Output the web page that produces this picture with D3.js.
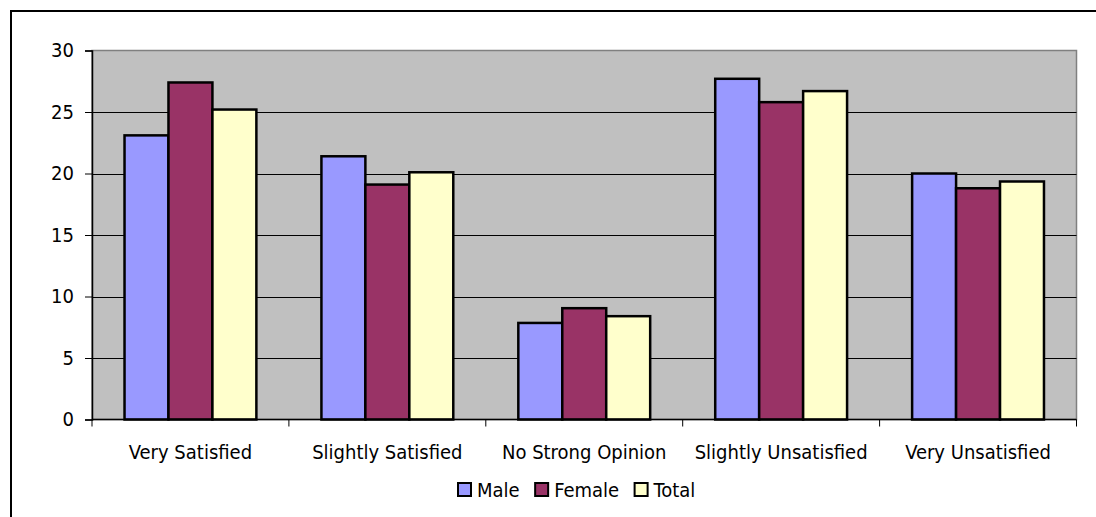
<!DOCTYPE html>
<html>
<head>
<meta charset="utf-8">
<script src="https://cdn.jsdelivr.net/npm/d3@7"></script>
<style>
  html, body { margin: 0; padding: 0; background: #fff; }
  svg { display: block; }
  text { font-family: "DejaVu Sans Condensed", "DejaVu Sans", sans-serif; font-stretch: condensed; fill: #000; }
</style>
</head>
<body>
<svg id="chart" width="1096" height="517"></svg>
<script>
// Survey responses by satisfaction level (percent)
const categories = ["Very Satisfied", "Slightly Satisfied", "No Strong Opinion", "Slightly Unsatisfied", "Very Unsatisfied"];
const seriesNames = ["Male", "Female", "Total"];
const maleValues   = [23.1, 21.4, 7.85, 27.7, 20.0];
const femaleValues = [27.4, 19.1, 9.05, 25.8, 18.8];
const totalValues  = [25.2, 20.1, 8.4, 26.7, 19.35];
const yTicks = [0, 5, 10, 15, 20, 25, 30];
const colors = ["#9999FF", "#993366", "#FFFFCC"];

const series = [maleValues, femaleValues, totalValues];
const FONT = "20px";
const FAMILY = "'DejaVu Sans Condensed', 'DejaVu Sans', sans-serif";

const svg = d3.select("#chart");
const W = 1096, H = 517;

// outer chart frame
svg.append("rect")
  .attr("x", 11).attr("y", 11)
  .attr("width", W).attr("height", H)
  .attr("fill", "#fff").attr("stroke", "#000").attr("stroke-width", 2);

const plot = { left: 92, top: 50.5, right: 1076.5, bottom: 419.5 };

const x = d3.scaleBand().domain(categories).range([plot.left, plot.right]).paddingInner(0).paddingOuter(0);
const xs = d3.scaleBand().domain(seriesNames).range([0, x.bandwidth()]).paddingInner(0).paddingOuter(0.74);
const y = d3.scaleLinear().domain([0, 30]).range([plot.bottom, plot.top]);

// plot background
svg.append("rect")
  .attr("x", plot.left).attr("y", plot.top)
  .attr("width", plot.right - plot.left).attr("height", plot.bottom - plot.top)
  .attr("fill", "#C0C0C0").attr("stroke", "#808080").attr("stroke-width", 1.5);

// gridlines
svg.append("g").selectAll("line")
  .data(yTicks.filter(d => d > 0 && d < 30))
  .join("line")
  .attr("x1", plot.left).attr("x2", plot.right)
  .attr("y1", d => Math.round(y(d)) + 0.5).attr("y2", d => Math.round(y(d)) + 0.5)
  .attr("stroke", "#000").attr("stroke-width", 1);

// bars
const groups = svg.append("g").selectAll("g")
  .data(categories)
  .join("g")
  .attr("transform", d => `translate(${x(d)},0)`);

groups.selectAll("rect")
  .data((c, i) => series.map((s, k) => ({ name: seriesNames[k], value: s[i], k })))
  .join("rect")
  .attr("x", d => xs(d.name))
  .attr("width", xs.bandwidth())
  .attr("y", d => y(d.value))
  .attr("height", d => y(0) - y(d.value))
  .attr("fill", d => colors[d.k])
  .attr("stroke", "#000").attr("stroke-width", 2.5);

// y axis
const yAxis = d3.axisLeft(y).tickValues(yTicks).tickSize(7).tickPadding(11);
const yg = svg.append("g").attr("transform", `translate(${plot.left},0)`).call(yAxis);
yg.select(".domain").attr("stroke", "#000").attr("stroke-width", 1.5);
yg.selectAll(".tick line").attr("stroke", "#000");
yg.selectAll("text").style("font-size", FONT).style("font-family", FAMILY).attr("fill", "#000");

// x axis: ticks at category boundaries
const xg = svg.append("g").attr("transform", `translate(0,${plot.bottom})`);
xg.append("line").attr("x1", plot.left).attr("x2", plot.right).attr("y1", 0).attr("y2", 0)
  .attr("stroke", "#000").attr("stroke-width", 1.5);
const bounds = categories.map(c => x(c)).concat([plot.right]);
xg.selectAll("line.tk").data(bounds).join("line").attr("class", "tk")
  .attr("x1", d => d).attr("x2", d => d).attr("y1", 0).attr("y2", 7)
  .attr("stroke", "#000");
xg.selectAll("text").data(categories).join("text")
  .attr("x", d => x(d) + x.bandwidth() / 2)
  .attr("y", 39.5)
  .attr("text-anchor", "middle")
  .style("font-size", FONT)
  .text(d => d);

// legend
const legend = svg.append("g").attr("transform", "translate(457,489.5)");
let lx = 0;
seriesNames.forEach((n, k) => {
  const g = legend.append("g").attr("transform", `translate(${lx},0)`);
  g.append("rect").attr("x", 1).attr("y", -6.5).attr("width", 13).attr("height", 13)
    .attr("fill", colors[k]).attr("stroke", "#000").attr("stroke-width", 2);
  const t = g.append("text").attr("x", 20).attr("y", 7).style("font-size", FONT).text(n);
  lx += 20 + t.node().getComputedTextLength() + 14.5;
});
</script>
</body>
</html>
